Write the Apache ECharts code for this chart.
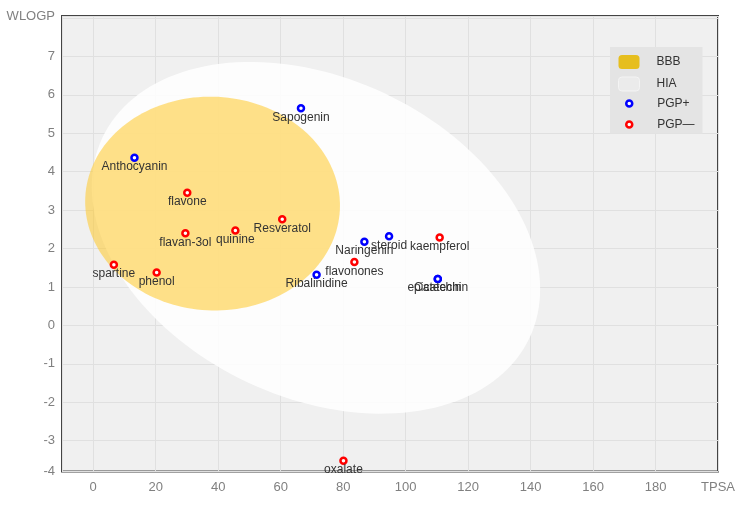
<!DOCTYPE html>
<html><head><meta charset="utf-8">
<script src="https://cdn.jsdelivr.net/npm/echarts@6/dist/echarts.min.js"></script>
<style>html,body{margin:0;padding:0;background:#fff}#c{width:750px;height:505px}</style>
</head><body><div id="c"></div>
<script>
// ---- data ----
const pgpPlusNames = ['Sapogenin','Anthocyanin','Naringenin','steroid','Ribalinidine','Catechin','epicatechin'];
const pgpPlusTPSA  = [66.5, 13.2, 86.8, 94.7, 71.5, 110.3, 110.3];
const pgpPlusWLOGP = [5.65, 4.36, 2.18, 2.32, 1.32, 1.21, 1.21];

const pgpMinusNames = ['flavone','Resveratol','quinine','flavan-3ol','spartine','phenol','flavonones','kaempferol','oxalate'];
const pgpMinusTPSA  = [30.1, 60.5, 45.5, 29.5, 6.6, 20.3, 83.6, 110.9, 80.1];
const pgpMinusWLOGP = [3.45, 2.76, 2.47, 2.40, 1.58, 1.38, 1.65, 2.29, -3.52];

// ellipse regions: [center TPSA, center WLOGP, semi-axis TPSA, semi-axis WLOGP, tilt (deg)]
const hiaEllipse = [71.3, 2.28, 75.5, 4.16, 25];
const bbbEllipse = [38.2, 3.17, 40.8, 2.78, 3];

const xAxisName = 'TPSA';
const yAxisName = 'WLOGP';
const yMinLabel = '-4';
const legendNames = ['BBB', 'HIA', 'PGP+', 'PGP\u2014'];

// ---- chart ----
const FONT = '"Liberation Sans", Arial, sans-serif';
const chart = echarts.init(document.getElementById('c'), null, {renderer: 'canvas'});

function ellipseRenderer(fill) {
  return function (params, api) {
    const c = api.coord([api.value(0), api.value(1)]);
    const s = api.size([api.value(2), api.value(3)]);
    const ang = api.value(4) * Math.PI / 180;
    const pts = [];
    const N = 160;
    for (let i = 0; i < N; i++) {
      const t = i / N * Math.PI * 2;
      const u = s[0] * Math.cos(t), v = s[1] * Math.sin(t);
      pts.push([c[0] + u * Math.cos(ang) - v * Math.sin(ang),
                c[1] + u * Math.sin(ang) + v * Math.cos(ang)]);
    }
    return {type: 'polygon', shape: {points: pts}, style: {fill: fill}};
  };
}

const plusData = pgpPlusNames.map((n, i) => ({name: n, value: [pgpPlusTPSA[i], pgpPlusWLOGP[i]]}));
const minusData = pgpMinusNames.map((n, i) => ({name: n, value: [pgpMinusTPSA[i], pgpMinusWLOGP[i]]}));

const pointLabel = {
  show: true, position: 'bottom', distance: -1,
  formatter: p => p.name, color: '#333', fontSize: 12, fontFamily: FONT
};

chart.setOption({
  animation: false,
  backgroundColor: '#fff',
  textStyle: {fontFamily: FONT},
  grid: {left: 62, right: 32, top: 16, bottom: 33.5, show: true,
         backgroundColor: '#F0F0F0', borderColor: '#444', borderWidth: 2},
  xAxis: {
    type: 'value', min: -10, max: 200, minInterval: 20, maxInterval: 20, splitNumber: 10,
    axisLine: {show: false}, axisTick: {show: false},
    splitLine: {show: true, lineStyle: {color: '#E0E0E0', width: 1}},
    axisLabel: {color: '#808080', fontSize: 13, fontFamily: FONT, margin: 9,
      showMinLabel: true, showMaxLabel: true,
      formatter: v => (v >= 199 ? xAxisName : (v < 0 ? '' : String(v)))}
  },
  yAxis: {
    type: 'value', min: -3.8, max: 8.05, minInterval: 1, maxInterval: 1, splitNumber: 12,
    axisLine: {show: false}, axisTick: {show: false},
    splitLine: {show: true, lineStyle: {color: '#E0E0E0', width: 1}},
    axisLabel: {color: '#808080', fontSize: 13, fontFamily: FONT, margin: 7,
      showMinLabel: true, showMaxLabel: true,
      formatter: v => (v > 8.01 ? yAxisName : (v > 7.99 ? '' : (v < -3.5 ? yMinLabel : String(v))))}
  },
  legend: [
    {
      data: [
        {name: legendNames[0], icon: 'roundRect', itemStyle: {color: '#E6BE1E', borderWidth: 0}},
        {name: legendNames[1], icon: 'roundRect', itemStyle: {color: '#EBEBEB', borderColor: '#F4F4F4', borderWidth: 1}}
      ],
      orient: 'vertical', left: 610, top: 47, padding: [8, 22, 42, 8],
      backgroundColor: '#E4E4E4', itemWidth: 21, itemHeight: 14, itemGap: 7.5,
      textStyle: {color: '#333', fontSize: 12, fontFamily: FONT, padding: [0, 0, 0, 12]},
      selectedMode: false
    },
    {
      data: [
        {name: legendNames[2], icon: 'circle', itemStyle: {color: '#fff', borderColor: '#0000FF', borderWidth: 2.5}},
        {name: legendNames[3], icon: 'circle', itemStyle: {color: '#fff', borderColor: '#FF0000', borderWidth: 2.5}}
      ],
      orient: 'vertical', left: 625, top: 97.5, padding: 0,
      itemWidth: 6, itemHeight: 14, itemGap: 9,
      textStyle: {color: '#333', fontSize: 12, fontFamily: FONT, padding: [0, 0, 0, 20]},
      selectedMode: false
    }
  ],
  series: [
    {name: legendNames[1], type: 'custom', renderItem: ellipseRenderer('rgba(255,255,255,0.86)'),
     data: [hiaEllipse], itemStyle: {color: '#EBEBEB'}, silent: true, z: 1},
    {name: legendNames[0], type: 'custom', renderItem: ellipseRenderer('rgba(255,200,40,0.55)'),
     data: [bbbEllipse], itemStyle: {color: '#E6BE1E'}, silent: true, z: 1},
    {name: legendNames[2], type: 'scatter', data: plusData, symbol: 'circle', symbolSize: 6,
     itemStyle: {color: '#fff', borderColor: '#0000FF', borderWidth: 2.5, opacity: 1},
     label: pointLabel, z: 3},
    {name: legendNames[3], type: 'scatter', data: minusData, symbol: 'circle', symbolSize: 6,
     itemStyle: {color: '#fff', borderColor: '#FF0000', borderWidth: 2.5, opacity: 1},
     label: pointLabel, z: 3}
  ]
});
</script>
</body></html>
